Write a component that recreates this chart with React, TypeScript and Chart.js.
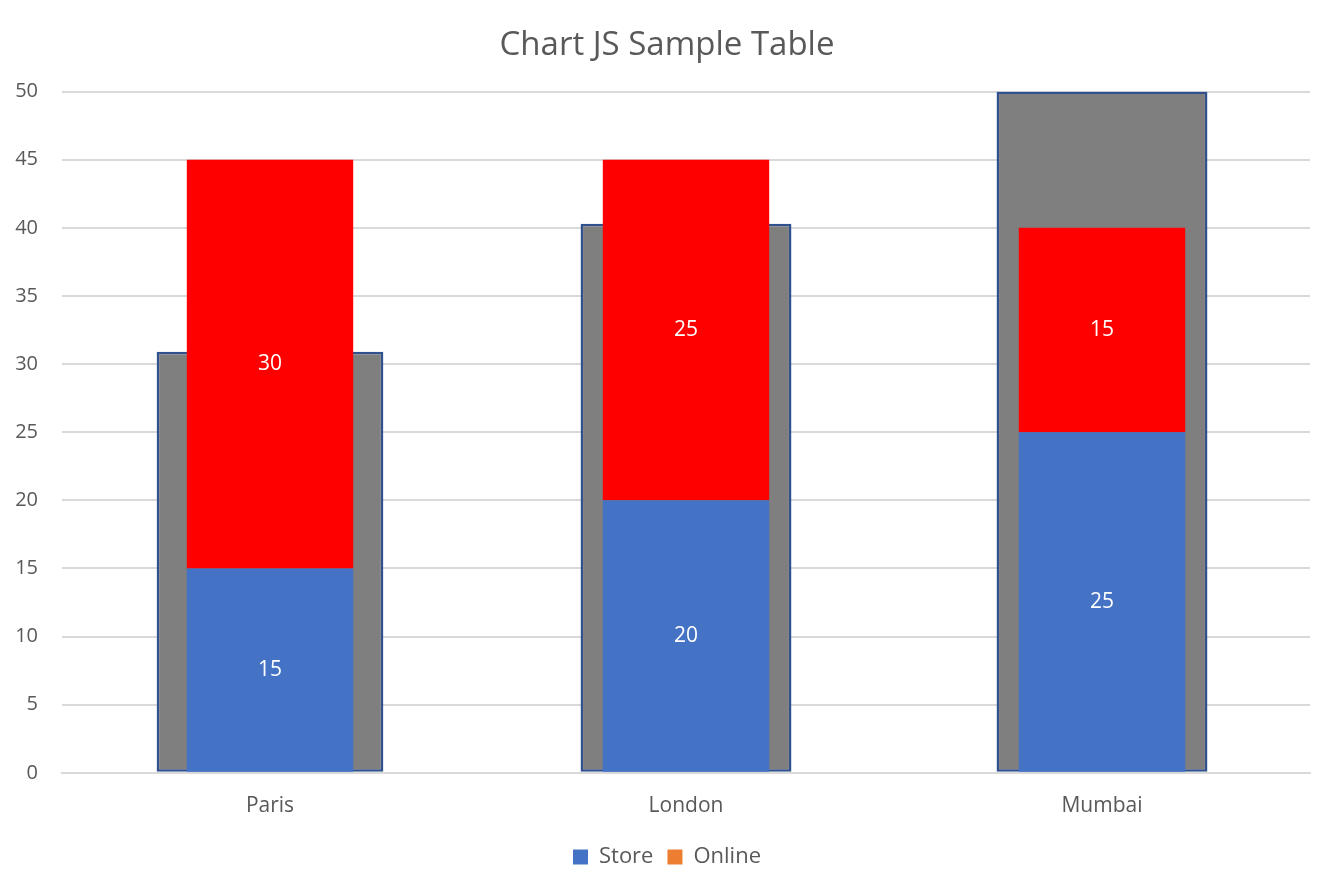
import React, { useEffect, useRef } from 'react';
import { Chart, registerables } from 'chart.js';

Chart.register(...registerables);

const cities = ['Paris', 'London', 'Mumbai'];
const totalValues = [30.9, 40.3, 50];
const storeValues = [15, 20, 25];
const onlineValues = [30, 25, 15];
const yTicks = [0, 5, 10, 15, 20, 25, 30, 35, 40, 45, 50];

const FONT = "'Open Sans', 'Liberation Sans', sans-serif";
const TEXT = '#595959';

// white value labels in the middle of each stacked segment
const segmentLabels = {
    id: 'segmentLabels',
    afterDatasetsDraw(chart: Chart) {
        const ctx = chart.ctx;
        ctx.save();
        ctx.fillStyle = '#FFFFFF';
        ctx.font = `21px ${FONT}`;
        ctx.textAlign = 'center';
        ctx.textBaseline = 'middle';
        chart.data.datasets.forEach((ds: any, i) => {
            if (!ds.showValues) return;
            const meta = chart.getDatasetMeta(i);
            meta.data.forEach((bar: any, j) => {
                const v = ds.data[j];
                ctx.fillText(String(v), bar.x, (bar.y + bar.base) / 2);
            });
        });
        ctx.restore();
    },
};

// the gray backdrop bars: Paris drawn a little wider than the other two
const grayBar = (data: (number | null)[], pct: number) =>
    ({
        label: 'Total',
        data,
        backgroundColor: '#7F7F7F',
        borderColor: '#2F528F',
        borderWidth: 2.5,
        borderSkipped: false,
        stack: 'total',
        grouped: false,
        order: 2,
        barPercentage: pct,
        categoryPercentage: 1,
    }) as any;

const ChartCanvas: React.FC = () => {
    const canvasRef = useRef<HTMLCanvasElement | null>(null);

    useEffect(() => {
        const canvas = canvasRef.current;
        if (!canvas) return;
        const existing = Chart.getChart(canvas);
        if (existing) existing.destroy();

        const legendColors = ['#4472C4', '#ED7D31'];

        const chart = new Chart(canvas, {
            type: 'bar',
            data: {
                labels: cities,
                datasets: [
                    grayBar([totalValues[0], null, null], 0.545),
                    grayBar([null, totalValues[1], totalValues[2]], 0.507),
                    {
                        label: 'Store',
                        data: storeValues,
                        backgroundColor: '#4472C4',
                        stack: 'sales',
                        grouped: false,
                        order: 1,
                        barPercentage: 0.4,
                        categoryPercentage: 1,
                        showValues: true,
                    } as any,
                    {
                        label: 'Online',
                        data: onlineValues,
                        backgroundColor: '#FF0000',
                        stack: 'sales',
                        grouped: false,
                        order: 1,
                        barPercentage: 0.4,
                        categoryPercentage: 1,
                        showValues: true,
                    } as any,
                ],
            },
            options: {
                animation: false,
                responsive: true,
                maintainAspectRatio: false,
                layout: { padding: { left: 0, right: 0, top: 4, bottom: 11 } },
                plugins: {
                    title: {
                        display: true,
                        text: 'Chart JS Sample Table',
                        color: TEXT,
                        font: { family: FONT, size: 33, weight: 'normal' },
                        padding: { top: 22, bottom: 26 },
                    },
                    legend: {
                        position: 'bottom',
                        labels: {
                            color: TEXT,
                            font: { family: FONT, size: 22 },
                            boxWidth: 15,
                            boxHeight: 15,
                            padding: 14,
                            generateLabels: (c) => {
                                const items = Chart.defaults.plugins.legend.labels.generateLabels(c);
                                return items
                                    .filter((it) => it.text !== 'Total')
                                    .map((it, k) => ({
                                        ...it,
                                        fillStyle: legendColors[k],
                                        strokeStyle: legendColors[k],
                                        lineWidth: 0,
                                    }));
                            },
                        },
                    },
                    tooltip: { enabled: false },
                },
                scales: {
                    x: {
                        stacked: false,
                        grid: { display: false },
                        border: { display: true, color: '#D9D9D9', width: 2 },
                        ticks: { color: TEXT, font: { family: FONT, size: 21 }, padding: 13 },
                    },
                    y: {
                        stacked: true,
                        min: 0,
                        max: 50,
                        afterBuildTicks: (axis) => {
                            axis.ticks = yTicks.map((v) => ({ value: v }));
                        },
                        afterFit: (axis) => {
                            axis.width = 62;
                        },
                        grid: { color: '#D9D9D9', lineWidth: 2, drawTicks: false },
                        border: { display: false },
                        ticks: { color: TEXT, font: { family: FONT, size: 20 }, padding: 24 },
                    },
                    // empty right-hand spacer so the plot ends where the reference does
                    yRight: {
                        position: 'right',
                        grid: { display: false },
                        border: { display: false },
                        ticks: { display: false },
                        afterFit: (axis) => {
                            axis.width = 24;
                        },
                    },
                },
            },
            plugins: [segmentLabels],
        });

        return () => {
            chart.destroy();
        };
    }, []);

    return (
        <div style={{ position: 'fixed', left: 0, top: 0, width: 1334, height: 889, background: '#fff' }}>
            <canvas ref={canvasRef} />
        </div>
    );
};

export default function App() {
    return <ChartCanvas />;
}
